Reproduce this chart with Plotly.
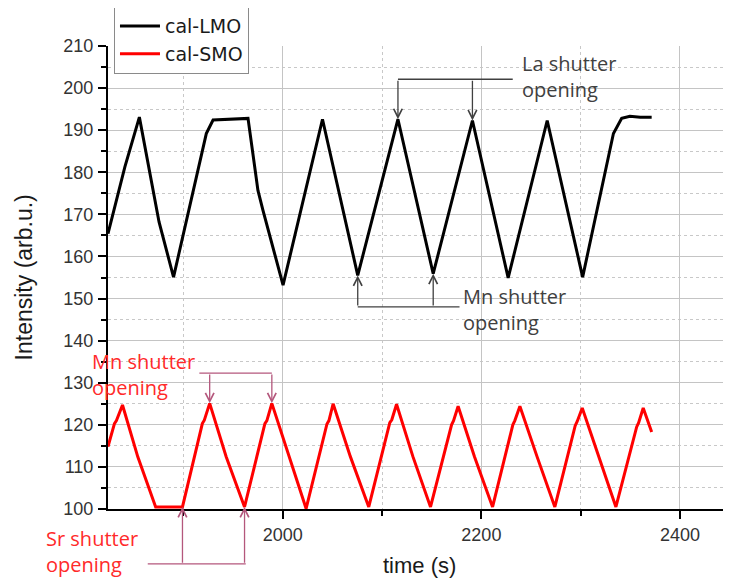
import plotly.graph_objects as go

# ---- data ----
lmo_t = [1824, 1841, 1855.6, 1875.4, 1890, 1923, 1929.8, 1947, 1965, 1975, 1980,
         2000.3, 2040, 2075.5, 2116, 2151.5, 2191, 2227, 2266.3,
         2302, 2333, 2341.3, 2349.6, 2360, 2371.5]
lmo_v = [165.4, 181.3, 193.1, 168.2, 155.1, 189.2, 192.4, 192.6, 192.8, 175.7, 171,
         153.2, 192.6, 155.5, 192.6, 155.9, 192.3, 154.9, 192.3,
         155.1, 189.2, 192.8, 193.3, 193.1, 193.1]

smo_t = [1824, 1830.5, 1832.5, 1838.6, 1854, 1872, 1899, 1919, 1921, 1926.4, 1943, 1961.5,
         1982, 1984, 1989, 2006, 2023.5, 2044.5, 2046.5, 2050.7, 2068, 2086.6,
         2107.8, 2109.8, 2114.6, 2131, 2148.8, 2170, 2172, 2176.6, 2193, 2211.3,
         2231.7, 2233.7, 2238.8, 2256, 2274, 2294.5, 2296.5, 2301.6, 2318, 2335.5,
         2356.4, 2358.4, 2363, 2371.5]
smo_v = [114.8, 120.3, 121, 124.7, 112.4, 100.5, 100.5, 120.3, 121.1, 125.1, 112.4, 100.5,
         120.3, 121, 125.1, 112.5, 100.1, 120.2, 121, 125, 112.5, 100.5,
         120.5, 121.2, 124.9, 112.5, 100.5, 120, 121, 124.4, 112.5, 100.5,
         120, 121, 124.4, 112.5, 100.5, 119.8, 120.8, 124, 112.5, 100.5,
         119.5, 120.5, 124, 118.3]

series_names = ["cal-LMO", "cal-SMO"]
x_ticks = [2000, 2200, 2400]
y_ticks = [100, 110, 120, 130, 140, 150, 160, 170, 180, 190, 200, 210]

# arrow targets (indices into the series) and connector levels
la_idx = [14, 16]        # LMO peaks at 2116, 2191
mn_lmo_idx = [13, 15]    # LMO troughs at 2075.5, 2151.5
mn_smo_idx = [9, 14]     # SMO peaks at 1926.4, 1989
sr_idx = [6, 11]         # SMO troughs at 1899, 1961.5

fig = go.Figure()
fig.add_trace(go.Scatter(x=lmo_t, y=lmo_v, mode="lines", name=series_names[0],
                         line=dict(color="black", width=3)))
fig.add_trace(go.Scatter(x=smo_t, y=smo_v, mode="lines", name=series_names[1],
                         line=dict(color="#ff0000", width=3)))

ann_font = dict(family="Open Sans", size=20)
dark = "#404040"
mauve = "#b4577c"
annotations = []


def arrows(ts, vs, idxs, tail_y, color):
    for i in idxs:
        annotations.append(dict(x=ts[i], y=vs[i], xref="x", yref="y",
                                ax=ts[i], ay=tail_y, axref="x", ayref="y",
                                text="", showarrow=True, arrowhead=5, arrowsize=1.3,
                                arrowwidth=1.3, arrowcolor=color, standoff=0))


arrows(lmo_t, lmo_v, la_idx, 202.1, dark)
arrows(lmo_t, lmo_v, mn_lmo_idx, 148.0, dark)
arrows(smo_t, smo_v, mn_smo_idx, 132.3, mauve)
arrows(smo_t, smo_v, sr_idx, 86.9, mauve)

shapes = [
    dict(type="line", xref="x", yref="y", x0=lmo_t[la_idx[0]], x1=2231.6, y0=202.1, y1=202.1,
         line=dict(color=dark, width=1.3)),
    dict(type="line", xref="x", yref="y", x0=lmo_t[mn_lmo_idx[0]], x1=2178, y0=148.0, y1=148.0,
         line=dict(color=dark, width=1.3)),
    dict(type="line", xref="x", yref="y", x0=1916, x1=smo_t[mn_smo_idx[1]], y0=132.3, y1=132.3,
         line=dict(color=mauve, width=1.3)),
    dict(type="line", xref="paper", yref="paper", x0=0.0638, x1=0.2211, y0=-0.1187, y1=-0.1187,
         line=dict(color=mauve, width=1.3)),
]

annotations += [
    dict(text="La shutter<br>opening", xref="paper", yref="paper", x=0.662, y=0.995,
         xanchor="left", yanchor="top", align="left", showarrow=False,
         font=dict(color=dark, **ann_font)),
    dict(text="Mn shutter<br>opening", xref="paper", yref="paper", x=0.566, y=0.493,
         xanchor="left", yanchor="top", align="left", showarrow=False,
         font=dict(color=dark, **ann_font)),
    dict(text="Mn shutter<br>opening", xref="paper", yref="paper", x=-0.029, y=0.351,
         xanchor="left", yanchor="top", align="left", showarrow=False,
         font=dict(color="#ff2a2a", **ann_font)),
    dict(text="Sr shutter<br>opening", xref="paper", yref="paper", x=-0.103, y=-0.031,
         xanchor="left", yanchor="top", align="left", showarrow=False,
         font=dict(color="#ff2a2a", **ann_font)),
    dict(text="Intensity (arb.u.)", xref="paper", yref="paper", x=-0.135, y=0.5,
         xanchor="center", yanchor="middle", textangle=-90, showarrow=False,
         font=dict(family="Liberation Sans", size=23, color="#1a1a1a")),
    dict(text="time (s)", xref="paper", yref="paper", x=0.5, y=-0.123,
         xanchor="center", yanchor="middle", showarrow=False,
         font=dict(family="Liberation Sans", size=22, color="#1a1a1a")),
]

axis_common = dict(
    showline=True, linecolor="black", linewidth=2,
    ticks="outside", ticklen=8, tickwidth=2, tickcolor="black",
    showgrid=True, gridcolor="#c4c4c4", gridwidth=1,
    tickfont=dict(family="Liberation Sans", size=18, color="#333333"),
    zeroline=False, mirror=False,
)

# the page body adds an 8 px offset, so the figure is sized to fit the window
fig.update_layout(
    width=723, height=575,
    margin=dict(l=100, r=0, t=38, b=74, autoexpand=False),
    paper_bgcolor="white", plot_bgcolor="white",
    showlegend=True,
    legend=dict(x=0.0096, y=1.086, xanchor="left", yanchor="top",
                bgcolor="white", bordercolor="#8a8a8a", borderwidth=1,
                font=dict(family="DejaVu Sans", size=19, color="#1a1a1a"),
                tracegroupgap=0, itemwidth=40),
    xaxis=dict(range=[1824, 2451.4], tickvals=x_ticks,
               minor=dict(dtick=100, tick0=0, ticks="outside", ticklen=5, tickwidth=2,
                          tickcolor="black", showgrid=True, griddash="dot",
                          gridcolor="#c8c8c8", gridwidth=1),
               **axis_common),
    yaxis=dict(range=[100, 210], tickvals=y_ticks, ticklabelstandoff=1,
               minor=dict(dtick=5, tick0=0, ticks="outside", ticklen=5, tickwidth=2,
                          tickcolor="black", showgrid=True, griddash="dot",
                          gridcolor="#c8c8c8", gridwidth=1),
               **axis_common),
    annotations=annotations,
    shapes=shapes,
)

fig.write_html("out.html")
